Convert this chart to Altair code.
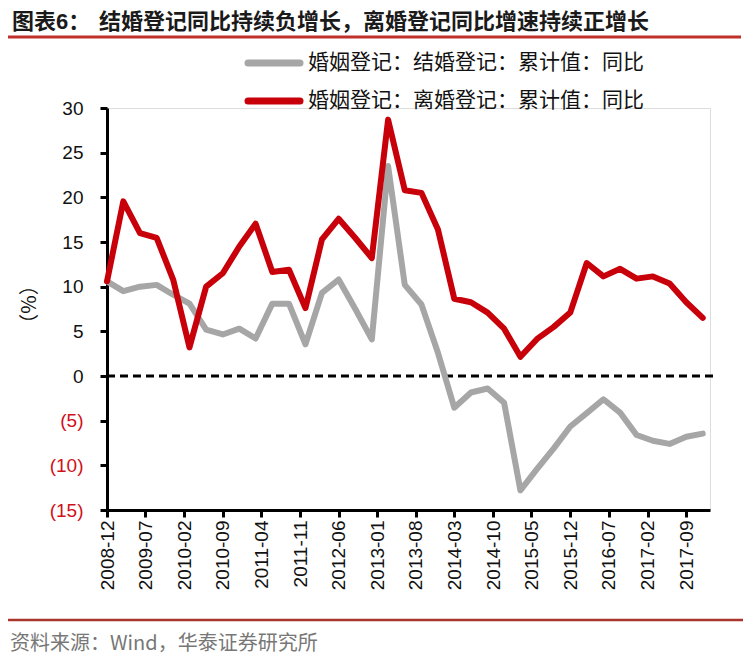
import altair as alt
import pandas as pd

# ---------------- data ----------------
quarters = ["2008-12", "2009-03", "2009-06", "2009-09", "2009-12",
            "2010-03", "2010-06", "2010-09", "2010-12",
            "2011-03", "2011-06", "2011-09", "2011-12",
            "2012-03", "2012-06", "2012-09", "2012-12",
            "2013-03", "2013-06", "2013-09", "2013-12",
            "2014-03", "2014-06", "2014-09", "2014-12",
            "2015-03", "2015-06", "2015-09", "2015-12",
            "2016-03", "2016-06", "2016-09", "2016-12",
            "2017-03", "2017-06", "2017-09", "2017-12"]

marriage_yoy = [10.6, 9.5, 10.0, 10.2, 9.1, 8.1, 5.2, 4.65, 5.3, 4.2,
                8.1, 8.1, 3.55, 9.3, 10.8, 7.5, 4.1, 23.5, 10.2, 8.0,
                2.6, -3.55, -1.85, -1.4, -3.0, -12.8, -10.4, -8.1, -5.65, -4.15,
                -2.6, -4.1, -6.6, -7.25, -7.6, -6.8, -6.45]

divorce_yoy = [10.6, 19.55, 16.0, 15.45, 10.8, 3.2, 10.0, 11.5, 14.5, 17.05,
               11.65, 11.9, 7.6, 15.3, 17.6, 15.45, 13.2, 28.7, 20.8, 20.5,
               16.4, 8.65, 8.25, 7.1, 5.3, 2.15, 4.15, 5.5, 7.1, 12.65,
               11.15, 12.0, 10.9, 11.15, 10.35, 8.25, 6.5]

series_names = ["婚姻登记：结婚登记：累计值：同比", "婚姻登记：离婚登记：累计值：同比"]
series_colors = ["#a6a6a6", "#c8000a"]

tick_labels = ["2008-12", "2009-07", "2010-02", "2010-09", "2011-04", "2011-11",
               "2012-06", "2013-01", "2013-08", "2014-03", "2014-10", "2015-05",
               "2015-12", "2016-07", "2017-02", "2017-09"]

y_ticks = [-15, -10, -5, 0, 5, 10, 15, 20, 25, 30]

title_prefix = "图表6："
title_main = "结婚登记同比持续负增长，离婚登记同比增速持续正增长"
source_text = "资料来源：Wind，华泰证券研究所"
y_title = "（%）"

# ---------------- build table ----------------
def to_local(s):
    y, m = s.split("-")
    return f"{y}/{m}/01"

rows = []
for q, v in zip(quarters, marriage_yoy):
    rows.append({"date": to_local(q), "value": v, "series": series_names[0]})
for q, v in zip(quarters, divorce_yoy):
    rows.append({"date": to_local(q), "value": v, "series": series_names[1]})
df = pd.DataFrame(rows)

def dt(s):
    y, m = s.split("-")
    return alt.DateTime(year=int(y), month=int(m), date=1)

W, H = 603, 402

x_enc = alt.X(
    "date:T",
    scale=alt.Scale(domain=[alt.DateTime(year=2008, month=12, date=1),
                            alt.DateTime(year=2018, month=1, date=10)]),
    axis=alt.Axis(values=[dt(t) for t in tick_labels], format="%Y-%m",
                  labelAngle=270, labelAlign="right", labelBaseline="middle",
                  labelFont="Liberation Sans", labelFontSize=19, labelColor="#111111",
                  labelPadding=3, labelOverlap=False,
                  tickSize=7, tickWidth=3, tickColor="black",
                  domainWidth=3, domainColor="black", title=None, grid=False),
)

y_enc = alt.Y(
    "value:Q",
    scale=alt.Scale(domain=[-15, 30], nice=False, zero=False),
    axis=alt.Axis(values=y_ticks, title=y_title, titleAngle=270,
                  titleX=-78, titleY=196, titleAlign="center", titleBaseline="middle",
                  titleFont="Noto Sans CJK SC", titleFontSize=20, titleFontWeight="normal",
                  titleColor="#111111",
                  labelExpr="datum.value < 0 ? '(' + abs(datum.value) + ')' : datum.label",
                  labelColor={"condition": {"test": "datum.value < 0", "value": "#d0101a"},
                              "value": "#111111"},
                  labelFont="Liberation Sans", labelFontSize=19, labelPadding=17,
                  tickSize=7, tickWidth=3, tickColor="black",
                  domainWidth=3, domainColor="black", grid=False),
)

color_scale = alt.Scale(domain=series_names, range=series_colors)

base = alt.Chart(df)

gray_line = base.transform_filter(alt.datum.series == series_names[0]).mark_line(
    strokeWidth=6, strokeJoin="round", strokeCap="round"
).encode(x=x_enc, y=y_enc, color=alt.Color("series:N", scale=color_scale, legend=None))

red_line = base.transform_filter(alt.datum.series == series_names[1]).mark_line(
    strokeWidth=6, strokeJoin="round", strokeCap="round"
).encode(x="date:T", y="value:Q", color=alt.Color("series:N", scale=color_scale, legend=None))

zero_line = alt.Chart(pd.DataFrame({"z": [0]})).mark_rule(
    color="black", strokeWidth=3, strokeDash=[8, 5]
).encode(y=alt.datum(0), x=alt.value(0), x2=alt.value(610))

layers = [zero_line, gray_line, red_line]

# legend (manual)
for i, (name, col) in enumerate(zip(series_names, series_colors)):
    ldf = pd.DataFrame({"name": [name]})
    yy = -45 + 38 * i
    layers.append(alt.Chart(ldf).mark_rule(color=col, strokeWidth=7, strokeCap="round").encode(
        x=alt.value(141), x2=alt.value(193), y=alt.value(yy)))
    layers.append(alt.Chart(ldf).mark_text(
        align="left", baseline="middle", font="Noto Sans CJK SC", fontSize=21, color="#111111"
    ).encode(x=alt.value(201), y=alt.value(yy), text="name:N"))

# title
title_font = "Liberation Sans, Noto Sans CJK SC"
layers.append(alt.Chart(pd.DataFrame({"t": [title_prefix]})).mark_text(
    align="left", baseline="middle", font=title_font, fontSize=22, fontWeight="bold",
    color="#1a1a1a").encode(x=alt.value(-95), y=alt.value(-86), text="t:N"))
layers.append(alt.Chart(pd.DataFrame({"t": [title_main]})).mark_text(
    align="left", baseline="middle", font=title_font, fontSize=22, fontWeight="bold",
    color="#1a1a1a").encode(x=alt.value(-8), y=alt.value(-86), text="t:N"))
layers.append(alt.Chart(pd.DataFrame({"t": [0]})).mark_rule(
    color="#c0302a", strokeWidth=3).encode(x=alt.value(-99), x2=alt.value(634), y=alt.value(-71)))

# footer
layers.append(alt.Chart(pd.DataFrame({"t": [0]})).mark_rule(
    color="#a8352e", strokeWidth=2.5).encode(x=alt.value(-99), x2=alt.value(637), y=alt.value(512)))
layers.append(alt.Chart(pd.DataFrame({"t": [source_text]})).mark_text(
    align="left", baseline="middle", font="Noto Sans CJK SC", fontSize=20,
    color="#777777").encode(x=alt.value(-97), y=alt.value(536), text="t:N"))

chart = alt.layer(*layers).properties(
    width=W, height=H,
    padding={"left": 99, "top": 100, "right": 33, "bottom": 152},
    autosize=alt.AutoSizeParams(type="none"),
).configure_view(stroke=None).configure(background="white")

chart.save("out.html", embed_options={"renderer": "svg", "actions": False})
